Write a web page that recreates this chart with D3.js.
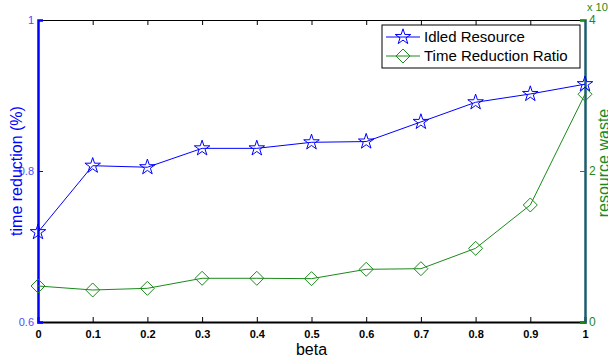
<!DOCTYPE html>
<html>
<head>
<meta charset="utf-8">
<script src="https://cdn.jsdelivr.net/npm/d3@7"></script>
<style>
  body { margin: 0; background: #fff; }
  svg { font-family: "Liberation Sans", Arial, sans-serif; }
</style>
</head>
<body>
<script>
const betas = [0, 0.1, 0.2, 0.3, 0.4, 0.5, 0.6, 0.7, 0.8, 0.9, 1];
const idledResource = [0.719, 0.807, 0.805, 0.830, 0.830, 0.838, 0.839, 0.865, 0.891, 0.902, 0.915];
const timeReductionRatio = [0.477, 0.424, 0.446, 0.579, 0.579, 0.574, 0.698, 0.706, 0.976, 1.55, 3.017];
const xTicks = [0, 0.1, 0.2, 0.3, 0.4, 0.5, 0.6, 0.7, 0.8, 0.9, 1];
const leftTicks = [0.6, 0.8, 1];
const rightTicks = [0, 2, 4];

const width = 608;
const height = 358;
const margin = { top: 20, right: 23, bottom: 36, left: 38 };

const svg = d3.select("body").append("svg")
  .attr("width", width)
  .attr("height", height);

const x = d3.scaleLinear().domain([0, 1]).range([margin.left, width - margin.right]);
const yLeft = d3.scaleLinear().domain([0.6, 1]).range([height - margin.bottom, margin.top]);
const yRight = d3.scaleLinear().domain([0, 4]).range([height - margin.bottom, margin.top]);

const blue = "#0000ff";
const green = "#1a8a1a";

// top and bottom axes (black, ticks pointing inward)
svg.append("g")
  .attr("transform", `translate(0,${height - margin.bottom})`)
  .call(d3.axisBottom(x).tickValues(xTicks).tickSize(-5).tickPadding(8)
    .tickFormat(d => d === 0 || d === 1 ? d3.format("d")(d) : d3.format(".1f")(d)))
  .call(g => g.select(".domain").attr("stroke", "#000").attr("stroke-width", 2))
  .call(g => g.selectAll("text").attr("font-size", 11).attr("font-weight", "bold").attr("fill", "#000"));

svg.append("g")
  .attr("transform", `translate(0,${margin.top})`)
  .call(d3.axisTop(x).tickValues(xTicks).tickSize(-5).tickFormat(""))
  .call(g => g.select(".domain").attr("stroke", "#000").attr("stroke-width", 1));

// left axis (blue)
svg.append("g")
  .attr("transform", `translate(${margin.left},0)`)
  .call(d3.axisLeft(yLeft).tickValues(leftTicks).tickSize(-5).tickPadding(4)
    .tickFormat(d => d === 1 ? "1" : d3.format(".1f")(d)))
  .call(g => g.select(".domain").attr("stroke", blue).attr("stroke-width", 2.5))
  .call(g => g.selectAll("line").attr("stroke", blue))
  .call(g => g.selectAll("text").attr("font-size", 11).attr("fill", "#4d4dff"));

// right axis (green)
svg.append("g")
  .attr("transform", `translate(${width - margin.right},0)`)
  .call(d3.axisRight(yRight).tickValues(rightTicks).tickSize(-5).tickPadding(4)
    .tickFormat(d3.format("d")))
  .call(g => g.select(".domain").attr("stroke", "#1c5e70").attr("stroke-width", 2.5))
  .call(g => g.selectAll("line").attr("stroke", green))
  .call(g => g.selectAll("text").attr("font-size", 12).attr("fill", green));

svg.append("text")
  .attr("x", width - margin.right + 2)
  .attr("y", 11)
  .attr("fill", green)
  .attr("font-size", 11)
  .text("x 10")
  .append("tspan")
  .attr("dy", -4)
  .attr("font-size", 8)
  .text("6");

// axis titles
svg.append("text")
  .attr("transform", `translate(22,${(margin.top + height - margin.bottom) / 2}) rotate(-90)`)
  .attr("text-anchor", "middle")
  .attr("fill", blue)
  .attr("font-size", 16)
  .text("time reduction (%)");

svg.append("text")
  .attr("transform", `translate(609,${(margin.top + height - margin.bottom) / 2 - 8}) rotate(-90)`)
  .attr("text-anchor", "middle")
  .attr("fill", green)
  .attr("font-size", 16)
  .text("resource waste");

svg.append("text")
  .attr("x", (margin.left + width - margin.right) / 2)
  .attr("y", 355)
  .attr("text-anchor", "middle")
  .attr("font-size", 16)
  .attr("fill", "#000")
  .text("beta");

// markers
const star = d3.symbol().type(d3.symbolStar).size(75);
const diamond = (cx, cy, r) => `M${cx},${cy - r}L${cx + r},${cy}L${cx},${cy + r}L${cx - r},${cy}Z`;

// green series
svg.append("path")
  .datum(betas.map((b, i) => [b, timeReductionRatio[i]]))
  .attr("fill", "none")
  .attr("stroke", green)
  .attr("stroke-width", 1)
  .attr("d", d3.line().x(d => x(d[0])).y(d => yRight(d[1])));

svg.append("g").selectAll("path")
  .data(betas.map((b, i) => [b, timeReductionRatio[i]]))
  .join("path")
  .attr("d", d => diamond(x(d[0]), yRight(d[1]), 7))
  .attr("fill", "none")
  .attr("stroke", green)
  .attr("stroke-width", 1);

// blue series
svg.append("path")
  .datum(betas.map((b, i) => [b, idledResource[i]]))
  .attr("fill", "none")
  .attr("stroke", blue)
  .attr("stroke-width", 1)
  .attr("d", d3.line().x(d => x(d[0])).y(d => yLeft(d[1])));

svg.append("g").selectAll("path")
  .data(betas.map((b, i) => [b, idledResource[i]]))
  .join("path")
  .attr("transform", d => `translate(${x(d[0])},${yLeft(d[1])})`)
  .attr("d", star)
  .attr("fill", "none")
  .attr("stroke", blue)
  .attr("stroke-width", 1);

// legend
const legend = svg.append("g").attr("transform", "translate(382,25)");
legend.append("rect")
  .attr("width", 198).attr("height", 43)
  .attr("fill", "#fff").attr("stroke", "#000").attr("stroke-width", 1);

const legendItems = [
  { label: "Idled Resource", color: blue, marker: "star" },
  { label: "Time Reduction Ratio", color: green, marker: "diamond" }
];

legendItems.forEach((item, i) => {
  const cy = 12 + i * 19;
  legend.append("line")
    .attr("x1", 4).attr("x2", 38).attr("y1", cy).attr("y2", cy)
    .attr("stroke", item.color).attr("stroke-width", 1);
  if (item.marker === "star") {
    legend.append("path").attr("transform", `translate(21,${cy})`)
      .attr("d", star).attr("fill", "none").attr("stroke", item.color);
  } else {
    legend.append("path").attr("d", diamond(21, cy, 7))
      .attr("fill", "none").attr("stroke", item.color);
  }
  legend.append("text")
    .attr("x", 42).attr("y", cy + 5)
    .attr("font-size", 15)
    .attr("fill", "#000")
    .text(item.label);
});
</script>
</body>
</html>
